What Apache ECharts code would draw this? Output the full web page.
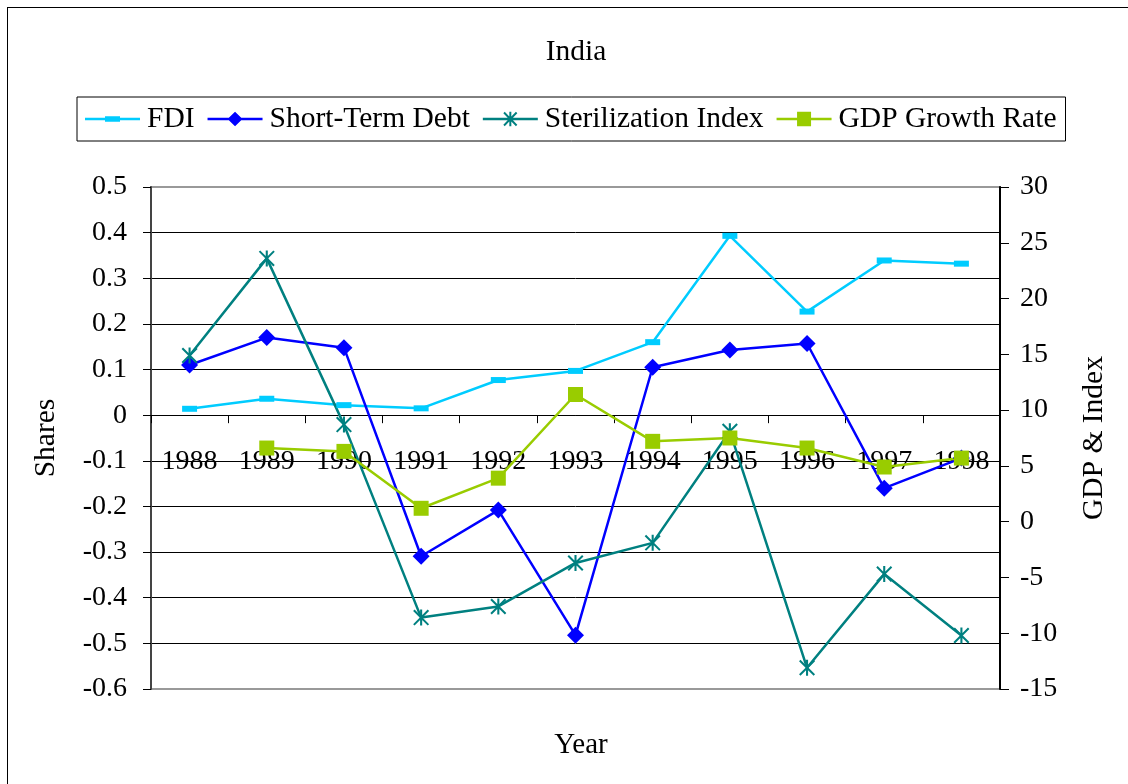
<!DOCTYPE html>
<html lang="en">
<head>
<meta charset="UTF-8">
<title>India</title>
<script src="https://cdn.jsdelivr.net/npm/echarts@6/dist/echarts.min.js"></script>
<style>
    html, body { margin: 0; padding: 0; background: #fff; overflow: hidden; }
    #frame { position: absolute; left: 7px; top: 7px; width: 1130px; height: 800px; border: 1px solid #000; }
    #chart { position: absolute; left: 0; top: 0; width: 1128px; height: 784px; }
</style>
</head>
<body>
<div id="frame"></div>
<div id="chart"></div>
<script>
    // data
    var years = ['1988', '1989', '1990', '1991', '1992', '1993', '1994', '1995', '1996', '1997', '1998'];
    var fdi = [0.014, 0.036, 0.022, 0.015, 0.077, 0.097, 0.160, 0.393, 0.227, 0.339, 0.332];
    var shortDebt = [0.110, 0.170, 0.148, -0.309, -0.208, -0.482, 0.105, 0.143, 0.157, -0.160, -0.094];
    var sterilization = [14.9, 23.6, 8.7, -8.6, -7.6, -3.7, -1.9, 8.1, -13.1, -4.7, -10.2];
    var gdpGrowth = [null, 6.6, 6.3, 1.2, 3.9, 11.4, 7.2, 7.5, 6.6, 4.9, 5.7];

    var leftMin = -0.6, leftMax = 0.5;

    var serif = "'Liberation Serif', 'Times New Roman', serif";
    // asterisk marker (3 bars)
    var starPath = 'path://M8.7,0L11.3,0L11.3,20L8.7,20Z M0,1.8L1.8,0L20,18.2L18.2,20Z M18.2,0L20,1.8L1.8,20L0,18.2Z';
    // legend icons: line with marker in the middle
    var iconFdi = 'path://M0,6L55,6L55,8.5L0,8.5Z M20,4.5L35,4.5L35,10L20,10Z';
    var iconDebt = 'path://M0,6L55,6L55,8.5L0,8.5Z M27.5,0L35,7.25L27.5,14.5L20,7.25Z';
    var iconStar = 'path://M0,6L55,6L55,8.5L0,8.5Z M26.5,0L28.5,0L28.5,14.5L26.5,14.5Z M20.5,1.4L21.9,0L34.5,13.1L33.1,14.5Z M33.1,0L34.5,1.4L21.9,14.5L20.5,13.1Z';
    var iconSquare = 'path://M0,6L55,6L55,8.5L0,8.5Z M20.5,0L34.5,0L34.5,14.5L20.5,14.5Z';

    // plot box; the category axis sits on the 0 line of the left axis
    var gridTop = 187, gridBottom = 95, chartH = 784;
    var plotH = chartH - gridTop - gridBottom;
    var zeroY = gridTop + (leftMax - 0) / (leftMax - leftMin) * plotH;
    var xAxisShift = -((chartH - gridBottom) - zeroY);

    var chart = echarts.init(document.getElementById('chart'));

    var option = {
        animation: false,
        title: [
            { text: 'India', left: 571, top: 32, textAlign: 'center',
              textStyle: { fontFamily: serif, fontSize: 29.5, fontWeight: 'normal', color: '#000' } },
            { text: 'Year', left: 576, top: 726, textAlign: 'center',
              textStyle: { fontFamily: serif, fontSize: 29, fontWeight: 'normal', color: '#000' } }
        ],
        legend: {
            left: 77,
            top: 97,
            padding: [7, 9, 7, 8],
            borderColor: '#000',
            borderWidth: 1,
            itemWidth: 55,
            itemHeight: 15,
            itemGap: 13,
            textStyle: { fontFamily: serif, fontSize: 29.5, color: '#000', padding: [0, 0, 0, 2] },
            data: [
                { name: 'FDI', icon: iconFdi },
                { name: 'Short-Term Debt', icon: iconDebt },
                { name: 'Sterilization Index', icon: iconStar },
                { name: 'GDP Growth Rate', icon: iconSquare }
            ]
        },
        grid: {
            left: 151,
            right: 128,
            top: gridTop,
            bottom: gridBottom,
            show: true,
            borderColor: '#999',
            borderWidth: 2
        },
        xAxis: {
            type: 'category',
            data: years,
            boundaryGap: true,
            offset: xAxisShift,
            axisLine: { onZero: false, lineStyle: { color: '#000', width: 1 } },
            axisTick: { show: true, inside: false, length: 8, lineStyle: { color: '#000', width: 1 } },
            axisLabel: { interval: 0, margin: 32, fontFamily: serif, fontSize: 28, color: '#000' },
            splitLine: { show: false }
        },
        yAxis: [
            {
                type: 'value',
                min: leftMin,
                max: leftMax,
                interval: 0.1,
                name: 'Shares',
                nameLocation: 'middle',
                nameRotate: 90,
                nameGap: 90,
                nameTextStyle: { fontFamily: serif, fontSize: 29.5, color: '#000' },
                axisLine: { show: true, lineStyle: { color: '#444', width: 2 } },
                axisTick: { show: true, length: 8, lineStyle: { color: '#000' } },
                axisLabel: { margin: 24, fontFamily: serif, fontSize: 28, color: '#000',
                    formatter: function (v) { return String(Math.round(v * 10) / 10); } },
                splitLine: { show: true, lineStyle: { color: ['#999', '#000', '#000', '#000', '#000', '#000', '#000', '#000', '#000', '#000', '#000', '#999'], width: 1 } }
            },
            {
                type: 'value',
                min: -15,
                max: 30,
                interval: 5,
                name: 'GDP & Index',
                nameLocation: 'middle',
                nameRotate: 90,
                nameGap: 79,
                nameTextStyle: { fontFamily: serif, fontSize: 29.5, color: '#000' },
                axisLine: { show: true, lineStyle: { color: '#000', width: 2 } },
                axisTick: { show: true, length: 9, lineStyle: { color: '#000' } },
                axisLabel: { margin: 20, fontFamily: serif, fontSize: 28, color: '#000' },
                splitLine: { show: false }
            }
        ],
        series: [
            {
                name: 'FDI',
                type: 'line',
                yAxisIndex: 0,
                data: fdi,
                symbol: 'rect',
                symbolSize: [15, 6],
                showAllSymbol: true,
                itemStyle: { color: '#00CCFF' },
                lineStyle: { color: '#00CCFF', width: 2.5 }
            },
            {
                name: 'Short-Term Debt',
                type: 'line',
                yAxisIndex: 0,
                data: shortDebt,
                symbol: 'diamond',
                symbolSize: 17,
                showAllSymbol: true,
                itemStyle: { color: '#0000FF' },
                lineStyle: { color: '#0000FF', width: 2.5 }
            },
            {
                name: 'Sterilization Index',
                type: 'line',
                yAxisIndex: 1,
                data: sterilization,
                symbol: starPath,
                symbolSize: 16,
                showAllSymbol: true,
                itemStyle: { color: '#008080' },
                lineStyle: { color: '#008080', width: 2.5 }
            },
            {
                name: 'GDP Growth Rate',
                type: 'line',
                yAxisIndex: 1,
                data: gdpGrowth,
                symbol: 'rect',
                symbolSize: 15,
                showAllSymbol: true,
                itemStyle: { color: '#99CC00' },
                lineStyle: { color: '#99CC00', width: 2.5 }
            }
        ]
    };

    chart.setOption(option);
</script>
</body>
</html>
